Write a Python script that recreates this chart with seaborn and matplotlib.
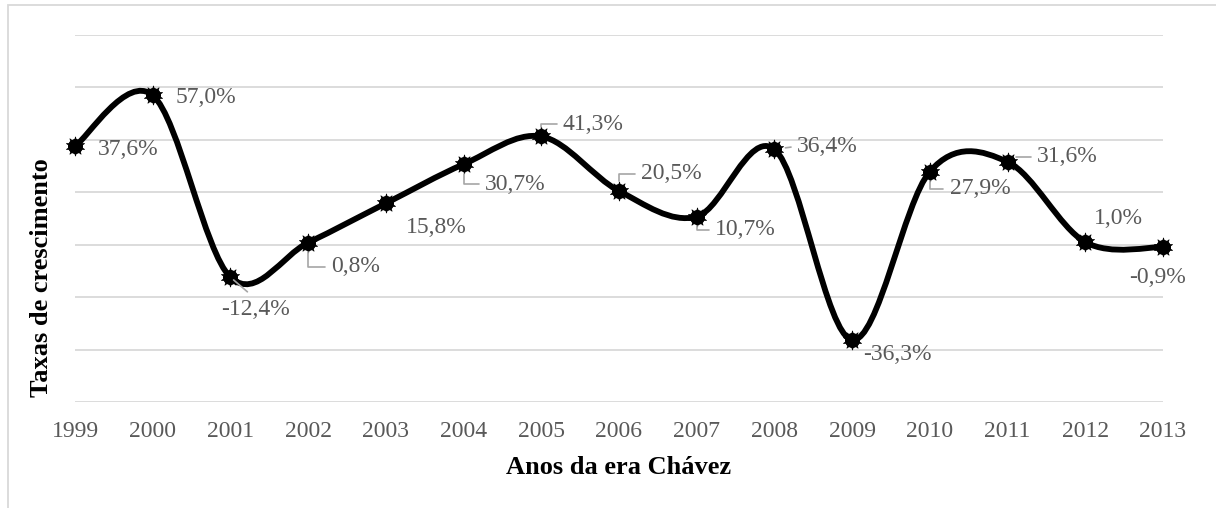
import numpy as np
import pandas as pd
import seaborn as sns
import matplotlib.pyplot as plt
from matplotlib.path import Path
from matplotlib.patches import PathPatch, Rectangle

anos = [1999, 2000, 2001, 2002, 2003, 2004, 2005, 2006, 2007, 2008, 2009, 2010, 2011, 2012, 2013]
taxas = [37.6, 57.0, -12.4, 0.8, 15.8, 30.7, 41.3, 20.5, 10.7, 36.4, -36.3, 27.9, 31.6, 1.0, -0.9]
rotulos = ['37,6%', '57,0%', '-12,4%', '0,8%', '15,8%', '30,7%', '41,3%', '20,5%',
           '10,7%', '36,4%', '-36,3%', '27,9%', '31,6%', '1,0%', '-0,9%']

# label offsets (pixels) and leader line type
off_x = [53, 53, 25, 47, 50, 52, 52, 52, 49, 53, 45, 50, 60, 33, -5]
off_y = [-3, -2, -32, -24, -24, -20, 12, 17, -13, 3, -15, -17, 5, 24, -30]
guia = [None, None, 'diag', 'L', None, 'L', 'L', 'L', 'L', 'dash', None, 'L', 'L', None, None]

df = pd.DataFrame({'ano': anos, 'taxa': taxas})

sns.set_style('white')
plt.rcParams['font.family'] = ['Liberation Serif', 'DejaVu Serif']

W, H = 1216, 508
fig = plt.figure(figsize=(W / 100, H / 100), dpi=100)
ax = fig.add_axes([75 / W, 1 - 402 / H, 1088 / W, 367 / H])

# chart area border
fig.add_artist(Rectangle((8 / W, -0.1), 1.5, 1.1 - 5 / H, transform=fig.transFigure,
                         fill=False, edgecolor='#d9d9d9', lw=1.3, clip_on=False))

# smoothed line (bezier, excel style)
x = np.array(anos, dtype=float)
y = np.array(taxas, dtype=float)
n = len(x)
verts = [(x[0], y[0])]
codes = [Path.MOVETO]
for i in range(n - 1):
    p0 = i - 1 if i > 0 else i
    p3 = i + 2 if i + 2 < n else i + 1
    c1 = (x[i] + (x[i + 1] - x[p0]) / 6, y[i] + (y[i + 1] - y[p0]) / 6)
    c2 = (x[i + 1] - (x[p3] - x[i]) / 6, y[i + 1] - (y[p3] - y[i]) / 6)
    verts += [c1, c2, (x[i + 1], y[i + 1])]
    codes += [Path.CURVE4] * 3
ax.add_patch(PathPatch(Path(verts, codes), fill=False, edgecolor='black', lw=4.2,
                       capstyle='round', joinstyle='round', zorder=3, clip_on=False))

sns.scatterplot(data=df, x='ano', y='taxa', marker=(10, 1, 0), s=190, color='black',
                edgecolor='black', linewidth=0.5, ax=ax, zorder=4, clip_on=False)
sns.scatterplot(data=df, x='ano', y='taxa', marker='o', s=100, color='black',
                edgecolor='black', ax=ax, zorder=4, clip_on=False)

for i in range(n):
    props = None
    if guia[i] == 'L':
        props = dict(arrowstyle='-', color='#a6a6a6', lw=1.2, relpos=(0, 0.5),
                     connectionstyle='angle,angleA=0,angleB=90,rad=0', shrinkA=2, shrinkB=7)
    elif guia[i] == 'diag':
        props = dict(arrowstyle='-', color='#a6a6a6', lw=1.2, relpos=(0.5, 1),
                     shrinkA=4, shrinkB=3)
    elif guia[i] == 'dash':
        props = dict(arrowstyle='-', color='#a6a6a6', lw=1.2, relpos=(0, 0.5),
                     shrinkA=2, shrinkB=8)
    ax.annotate(rotulos[i], xy=(anos[i], taxas[i]), xytext=(off_x[i], off_y[i]),
                textcoords='offset pixels', ha='center', va='center', fontsize=17,
                color='#595959', arrowprops=props, zorder=5)

ax.set_xlim(1999, 2013)
ax.set_ylim(-60, 80)
ax.set_xticks(anos)
ax.set_xticklabels([str(a) for a in anos])
ax.set_yticks(np.arange(-60, 81, 20))
ax.set_yticklabels([])
ax.grid(axis='y', color='#d9d9d9', lw=1.3)
ax.grid(axis='x', visible=False)
ax.tick_params(axis='x', length=0, pad=14, labelsize=17, labelcolor='#595959')
ax.tick_params(axis='y', length=0)
for s in ax.spines.values():
    s.set_visible(False)

ax.set_xlabel('Anos da era Chávez', fontsize=19, fontweight='bold', color='black')
ax.xaxis.set_label_coords(0.5, -(456 - 402) / 367)
ax.set_ylabel('Taxas de crescimento', fontsize=19, fontweight='bold', color='black')
ax.yaxis.set_label_coords((53 - 75) / 1088, 1 - (278 - 35) / 367)

fig.savefig('out.png', dpi=100)
